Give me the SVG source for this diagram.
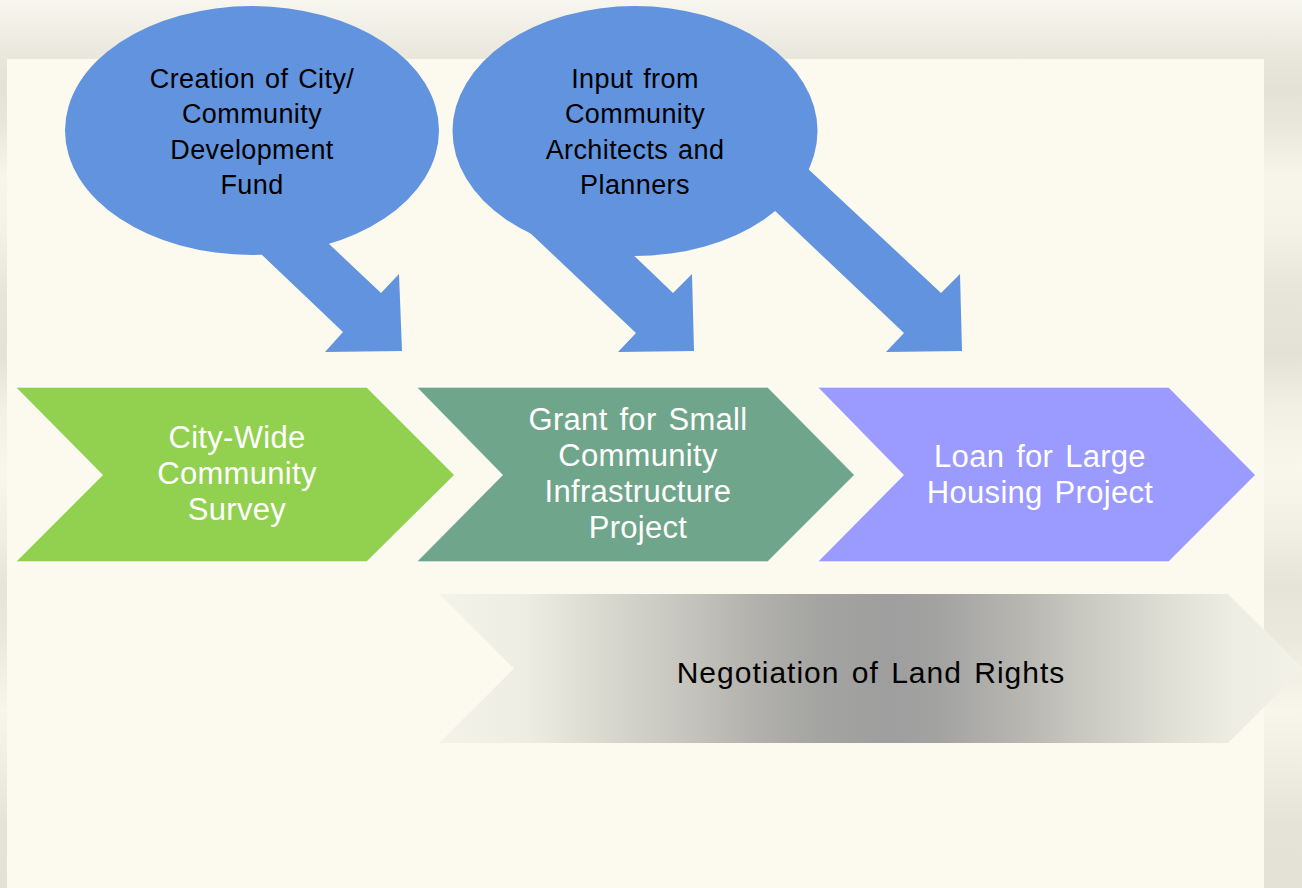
<svg xmlns="http://www.w3.org/2000/svg" width="1302" height="888" viewBox="0 0 1302 888">
  <defs>
    <!-- striped frame texture running down the page edges -->
    <linearGradient id="frameStripes" x1="0" y1="0" x2="0" y2="888" gradientUnits="userSpaceOnUse">
      <stop offset="0" stop-color="#F6F4EA"/>
      <stop offset="0.066" stop-color="#E8E6DA"/>
      <stop offset="0.1" stop-color="#E4E2D6"/>
      <stop offset="0.14" stop-color="#E9E7DC"/>
      <stop offset="0.2" stop-color="#F8F6EB"/>
      <stop offset="0.26" stop-color="#F4F2E7"/>
      <stop offset="0.33" stop-color="#E7E5D9"/>
      <stop offset="0.4" stop-color="#E4E2D6"/>
      <stop offset="0.46" stop-color="#F2F0E5"/>
      <stop offset="0.53" stop-color="#F9F7EC"/>
      <stop offset="0.6" stop-color="#F1EFE4"/>
      <stop offset="0.66" stop-color="#E6E4D8"/>
      <stop offset="0.72" stop-color="#EBE9DE"/>
      <stop offset="0.8" stop-color="#F8F6EB"/>
      <stop offset="0.86" stop-color="#F0EEE3"/>
      <stop offset="0.93" stop-color="#E5E3D7"/>
      <stop offset="1" stop-color="#E4E2D6"/>
    </linearGradient>
    <linearGradient id="topBand" x1="0" y1="0" x2="0" y2="59" gradientUnits="userSpaceOnUse">
      <stop offset="0" stop-color="#F8F7EF"/>
      <stop offset="0.5" stop-color="#F0EEE5"/>
      <stop offset="1" stop-color="#E9E7DC"/>
    </linearGradient>
    <!-- grey fade for the land-rights band -->
    <linearGradient id="landFade" x1="439" y1="0" x2="1303" y2="0" gradientUnits="userSpaceOnUse">
      <stop offset="0" stop-color="#F4F3EA"/>
      <stop offset="0.1" stop-color="#EEEDE4"/>
      <stop offset="0.19" stop-color="#DAD9D0"/>
      <stop offset="0.3" stop-color="#C2C1BB"/>
      <stop offset="0.37" stop-color="#B1B0AC"/>
      <stop offset="0.44" stop-color="#A4A4A2"/>
      <stop offset="0.52" stop-color="#9E9E9E"/>
      <stop offset="0.58" stop-color="#A3A3A2"/>
      <stop offset="0.68" stop-color="#B8B7B2"/>
      <stop offset="0.77" stop-color="#CFCEC6"/>
      <stop offset="0.86" stop-color="#E3E2D9"/>
      <stop offset="0.92" stop-color="#EEEDE4"/>
      <stop offset="1" stop-color="#F3F2E9"/>
    </linearGradient>
    <style>
      .chev { stroke: #FFFFFF; stroke-width: 1.5; stroke-opacity: 0.85; }
      .bubble { fill: #6193DE; }
      .label-dark { font-family: "Liberation Sans", Arial, sans-serif; font-size: 27px; fill: #000000; text-anchor: middle; letter-spacing: 0.4px; word-spacing: 2px; }
      .label-light { font-family: "Liberation Sans", Arial, sans-serif; font-size: 31px; fill: #FFFFFF; text-anchor: middle; letter-spacing: 0.3px; word-spacing: 3px; }
      .label-band { font-family: "Liberation Sans", Arial, sans-serif; font-size: 30px; fill: #000000; text-anchor: middle; letter-spacing: 1px; word-spacing: 3px; }
    </style>
  </defs>

  <!-- page frame and panel -->
  <rect x="0" y="0" width="1302" height="888" fill="url(#frameStripes)"/>
  <rect x="0" y="0" width="1302" height="59" fill="url(#topBand)"/>
  <rect x="7" y="59" width="1257" height="829" fill="#FCFAEE"/>

  <!-- land rights band -->
  <g id="land-rights">
    <path d="M439,594 H1228 L1303,668.5 L1228,743 H439 L514,668.5 Z" fill="url(#landFade)"/>
    <text class="label-band" x="871" y="683">Negotiation of Land Rights</text>
  </g>

  <!-- process chevrons -->
  <g id="survey">
    <path class="chev" d="M15,387 H367 L455,475 L367,562 H15 L102,475 Z" fill="#92D050"/>
    <text class="label-light" x="237" y="448">City-Wide</text>
    <text class="label-light" x="237" y="484">Community</text>
    <text class="label-light" x="237" y="520">Survey</text>
  </g>
  <g id="grant">
    <path class="chev" d="M416,387 H768 L855,475 L768,562 H416 L502,475 Z" fill="#6FA58A"/>
    <text class="label-light" x="638" y="430">Grant for Small</text>
    <text class="label-light" x="638" y="466">Community</text>
    <text class="label-light" x="638" y="502">Infrastructure</text>
    <text class="label-light" x="638" y="538">Project</text>
  </g>
  <g id="loan">
    <path class="chev" d="M817,387 H1169 L1256,475 L1169,562 H817 L903,475 Z" fill="#9A9AFF"/>
    <text class="label-light" x="1040" y="467">Loan for Large</text>
    <text class="label-light" x="1040" y="503">Housing Project</text>
  </g>

  <!-- bent arrows from the callouts down to the chevrons -->
  <g id="connectors" class="bubble">
    <polygon points="240,234 343,332 325,352 402,351 399,274 381,293 310,226"/>
    <polygon points="510,214 636,333 618,352 694,351 692,274 673,293 600,223"/>
    <polygon points="755,192 904,333 886,352 962,351 960,274 941,293 790,152"/>
  </g>

  <!-- callouts -->
  <g id="fund">
    <ellipse class="bubble" cx="252" cy="130.5" rx="187" ry="124.5"/>
    <text class="label-dark" x="252" y="88">Creation of City/</text>
    <text class="label-dark" x="252" y="123">Community</text>
    <text class="label-dark" x="252" y="158.5">Development</text>
    <text class="label-dark" x="252" y="194">Fund</text>
  </g>
  <g id="architects">
    <ellipse class="bubble" cx="635" cy="131" rx="182.5" ry="125"/>
    <text class="label-dark" x="635" y="88">Input from</text>
    <text class="label-dark" x="635" y="123">Community</text>
    <text class="label-dark" x="635" y="158.5">Architects and</text>
    <text class="label-dark" x="635" y="194">Planners</text>
  </g>
</svg>
